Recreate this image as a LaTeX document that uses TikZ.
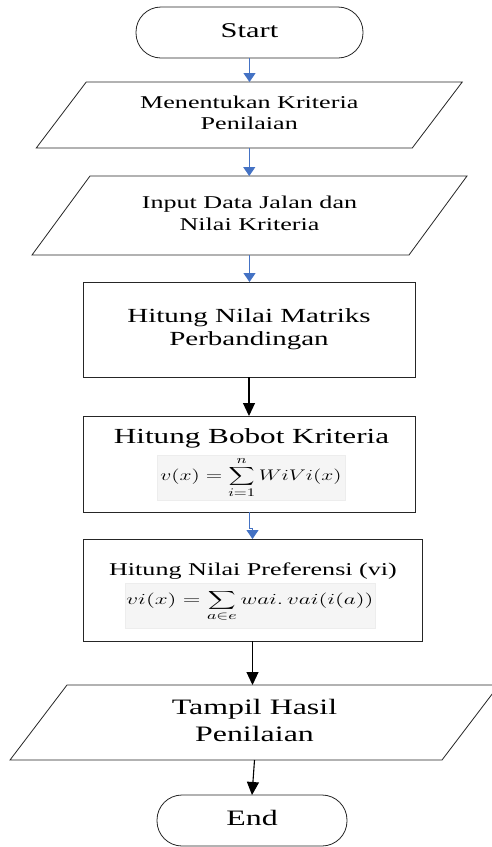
\documentclass[tikz,border=0pt]{standalone}
\usepackage{fontspec}
\setmainfont{Liberation Serif}
\usepackage{graphicx}
\usetikzlibrary{arrows.meta,calc}
\definecolor{arrowblue}{HTML}{4472C4}
\newcommand{\sx}[3]{{\fontsize{#1}{#2}\selectfont\scalebox{1.45}[1]{\begin{tabular}{@{}c@{}}#3\end{tabular}}}}
\newcommand{\mx}[4]{{\fontsize{#1}{#1}\selectfont\scalebox{#2}[#3]{$\displaystyle #4$}}}
\tikzset{
  terminal/.style={draw=black!85, line width=0.8pt, rounded corners=25pt, inner sep=0pt, outer sep=0pt},
  procbox/.style={draw=black!85, line width=0.9pt, inner sep=0pt, outer sep=0pt},
  iobox/.style={inner sep=0pt, outer sep=0pt},
  ioline/.style={draw=black!85, line width=0.8pt},
  txt/.style={inner sep=0pt, outer sep=0pt},
  formulabox/.style={fill=black!4, draw=black!7, line width=0.4pt, inner sep=0pt, outer sep=0pt},
  bluearrow/.style={draw=arrowblue, line width=1.3pt, -{Triangle[width=12pt,length=9pt]}},
  blackarrow/.style={draw=black, line width=1.1pt, -{Triangle[width=12pt,length=13pt]}}
}
\begin{document}
\begin{tikzpicture}[x=1pt,y=-1pt]
\clip (0,0) rectangle (492,847);
\fill[white] (0,0) rectangle (492,847);

% Start
\node[terminal, minimum width=227pt, minimum height=51pt] (start) at (249.5,32.5) {\sx{21}{25}{Start}};

% Parallelogram 1
\node[iobox, minimum width=376pt, minimum height=66pt] (p1) at (249.25,115) {\sx{18}{21}{Menentukan Kriteria\\Penilaian}};
\draw[ioline] ($(p1.north west)+(25,0)$) -- ($(p1.north east)+(25,0)$) -- ($(p1.south east)+(-25,0)$) -- ($(p1.south west)+(-25,0)$) -- cycle;

% Parallelogram 2
\node[iobox, minimum width=377pt, minimum height=79pt] (p2) at (249.5,215.5) {\sx{18}{22}{Input Data Jalan dan\\Nilai Kriteria}};
\draw[ioline] ($(p2.north west)+(29,0)$) -- ($(p2.north east)+(29,0)$) -- ($(p2.south east)+(-29,0)$) -- ($(p2.south west)+(-29,0)$) -- cycle;

% Rect 1
\node[procbox, minimum width=332pt, minimum height=95pt] (r1) at (249,329.5) {\sx{20}{23}{Hitung Nilai Matriks\\Perbandingan}};

% Rect 2
\node[procbox, minimum width=332pt, minimum height=96pt] (r2) at (249,464) {};
\node[txt, anchor=base] (t2) at (251.5,444) {\sx{21.5}{25}{Hitung Bobot Kriteria}};
\node[formulabox, minimum width=188pt, minimum height=45pt] (f2) at (251,477.5) {};
\node[txt] (m2) at (f2.center) {\mx{12.5}{1.8}{1.28}{v(x) = \sum_{i=1}^{n} WiVi(x)}};

% Rect 3
\node[procbox, minimum width=339pt, minimum height=102pt] (r3) at (252.5,590) {};
\node[txt, anchor=base] (t3) at (253,576) {\sx{18}{21}{Hitung Nilai Preferensi (vi)}};
\node[formulabox, minimum width=250pt, minimum height=45pt] (f3) at (250,605.5) {};
\node[txt] (m3) at (f3.center) {\mx{13}{1.93}{1.28}{vi(x) = \sum_{a\in e} wai.\,vai(i(a))}};

% Parallelogram 3
\node[iobox, minimum width=432pt, minimum height=75pt] (p3) at (254.5,722.5) {\sx{22}{27}{Tampil Hasil\\Penilaian}};
\draw[ioline] ($(p3.north west)+(28.5,0)$) -- ($(p3.north east)+(28.5,0)$) -- ($(p3.south east)+(-28.5,0)$) -- ($(p3.south west)+(-28.5,0)$) -- cycle;

% End
\node[terminal, minimum width=190pt, minimum height=51pt] (end) at (252,820.5) {\sx{22}{26}{End}};

% Connectors
\draw[bluearrow] (start.south) -- (start.south |- p1.north);
\draw[bluearrow] (p1.south) -- (p1.south |- p2.north);
\draw[bluearrow] (p2.south) -- (p2.south |- r1.north);
\draw[blackarrow] (r1.south) -- (r2.north);
\draw[bluearrow, line width=1pt] (r2.south) -- ++(0,16) -| (r3.north);
\draw[blackarrow] (r3.south) -- (r3.south |- p3.north);
\draw[blackarrow] (p3.south) -- (end.north);
\end{tikzpicture}
\end{document}
